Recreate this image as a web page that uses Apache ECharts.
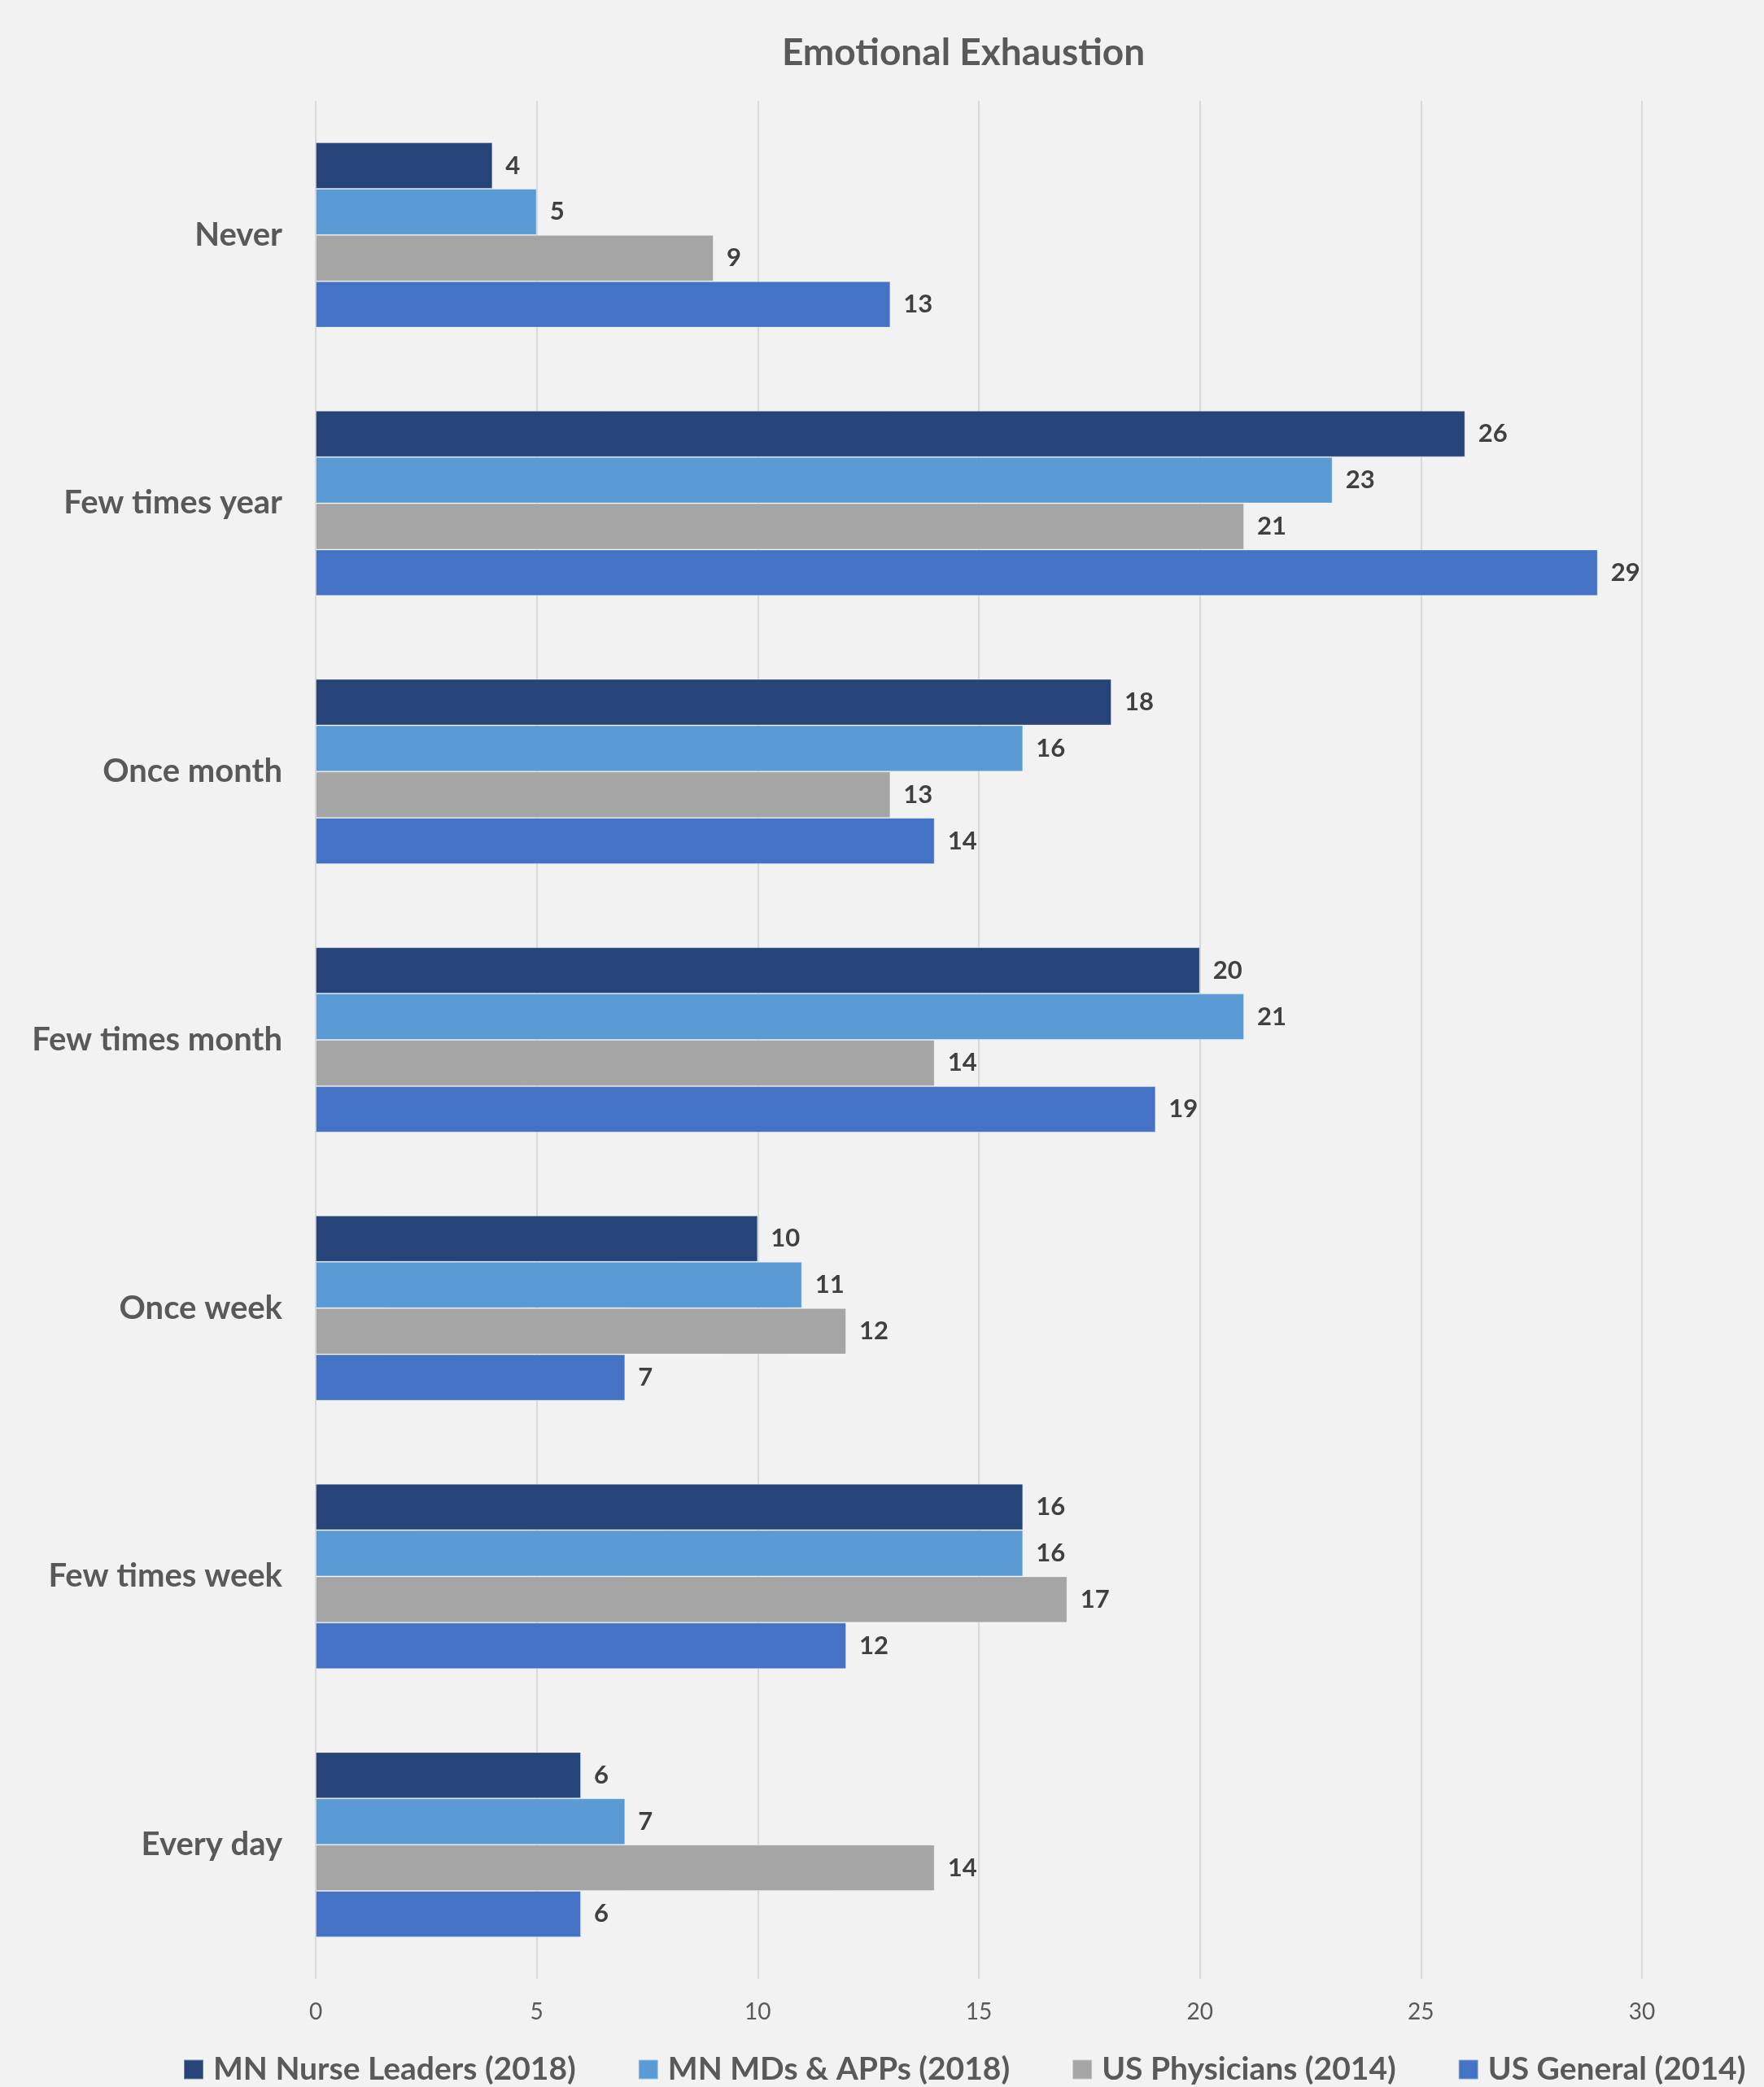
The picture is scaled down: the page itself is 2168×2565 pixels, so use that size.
<!DOCTYPE html>
<html>
<head>
<meta charset="utf-8">
<title>Emotional Exhaustion</title>
<script src="https://cdn.jsdelivr.net/npm/echarts@6/dist/echarts.min.js"></script>
<style>
  html, body { margin: 0; padding: 0; background: #F2F2F2; }
  #chart { width: 2168px; height: 2565px; }
</style>
</head>
<body>
<div id="chart"></div>
<script>
// Response categories, top to bottom
const categories = ['Never', 'Few times year', 'Once month', 'Few times month', 'Once week', 'Few times week', 'Every day'];

// Percent of respondents per group
const nurseLeaders2018 = [4, 26, 18, 20, 10, 16, 6];
const mdsApps2018 = [5, 23, 16, 21, 11, 16, 7];
const usPhysicians2014 = [9, 21, 13, 14, 12, 17, 14];
const usGeneral2014 = [13, 29, 14, 19, 7, 12, 6];

const seriesNames = ['MN Nurse Leaders (2018)', 'MN MDs & APPs (2018)', 'US Physicians (2014)', 'US General (2014)'];
const seriesColors = ['#264478', '#5B9BD5', '#A5A5A5', '#4472C4'];
const seriesData = [nurseLeaders2018, mdsApps2018, usPhysicians2014, usGeneral2014];

const FONT = 'Lato, "Open Sans", "Noto Sans", sans-serif';

const chart = echarts.init(document.getElementById('chart'), null, { renderer: 'canvas' });

chart.setOption({
  backgroundColor: '#F2F2F2',
  animation: false,
  title: {
    text: 'Emotional Exhaustion',
    left: 1179,
    top: 37,
    textAlign: 'center',
    textStyle: { fontFamily: FONT, fontSize: 46, fontWeight: 'bold', color: '#595959' }
  },
  legend: {
    data: seriesNames,
    left: 220,
    top: 2519,
    itemWidth: 24,
    itemHeight: 24,
    itemGap: 76,
    icon: 'rect',
    textStyle: { fontFamily: FONT, fontSize: 39, fontWeight: 'bold', color: '#595959', padding: [0, 0, 0, 7] }
  },
  grid: { left: 388, right: 150, top: 124, bottom: 133, containLabel: false },
  xAxis: {
    type: 'value',
    min: 0,
    max: 30,
    interval: 5,
    axisLine: { show: false },
    axisTick: { show: false },
    splitLine: { lineStyle: { color: '#D9D9D9', width: 2 } },
    axisLabel: { fontFamily: FONT, fontSize: 28, color: '#595959', margin: 27 }
  },
  yAxis: {
    type: 'category',
    data: categories,
    inverse: true,
    axisLine: { show: false },
    axisTick: { show: false },
    axisLabel: { fontFamily: FONT, fontSize: 40, fontWeight: 'bold', color: '#595959', margin: 41 }
  },
  series: seriesData.map((vals, i) => ({
    name: seriesNames[i],
    type: 'bar',
    data: vals,
    barGap: '0%',
    barCategoryGap: '31%',
    itemStyle: { color: seriesColors[i], borderColor: 'rgba(255,255,255,0.35)', borderWidth: 1 },
    label: {
      show: true,
      position: 'right',
      distance: 16,
      fontFamily: FONT,
      fontSize: 31,
      fontWeight: 'bold',
      color: '#404040'
    }
  }))
});
</script>
</body>
</html>
